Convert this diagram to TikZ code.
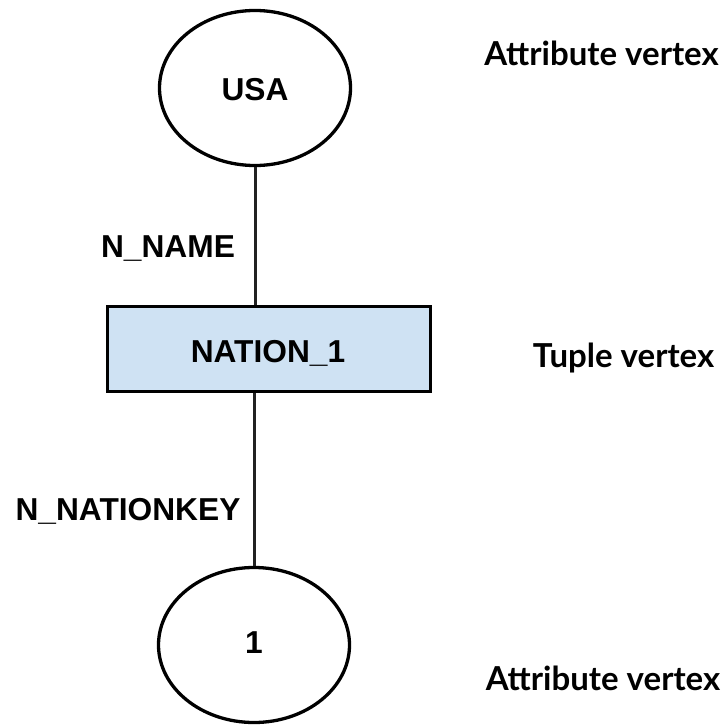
\documentclass[tikz,border=0pt]{standalone}
\usepackage{fontspec}
\setmainfont{Liberation Sans}
\newfontfamily\latofont{Lato}
\usetikzlibrary{shapes.geometric}
\definecolor{tuplefill}{HTML}{CFE2F3}
\definecolor{edgeline}{HTML}{222222}
\tikzset{
  attrvertex/.style={ellipse, draw=black, line width=3.3pt, fill=white,
    minimum width=191pt, minimum height=155pt, inner sep=0pt},
  tuplevertex/.style={rectangle, draw=black, line width=3.3pt, fill=tuplefill,
    minimum width=323pt, minimum height=85pt, inner sep=0pt},
  vtext/.style={font=\fontsize{31.7}{38}\selectfont\bfseries, anchor=base, inner sep=0pt},
  edgelabel/.style={font=\fontsize{31.7}{38}\selectfont\bfseries, anchor=base, inner sep=0pt},
  kindlabel/.style={font=\latofont\fontsize{33}{40}\selectfont\bfseries, anchor=base, inner sep=0pt},
  link/.style={draw=edgeline, line width=3pt},
}
\begin{document}
\begin{tikzpicture}[x=1pt,y=-1pt]
  \useasboundingbox (0,0) rectangle (726,725);
  % vertices
  \node[attrvertex] (usa) at (255,88) {};
  \node[tuplevertex] (nation) at (269,349) {};
  \node[attrvertex] (one) at (254,645) {};
  % connectors
  \draw[link] (usa.south) -- (usa.south |- nation.north);
  \draw[link] (one.north |- nation.south) -- (one.north);
  % vertex texts
  \node[vtext] (usatext) at (255,100) {USA};
  \node[vtext] (nationtext) at (268,362) {NATION\_1};
  \node[vtext] (onetext) at (254,653) {1};
  % edge labels
  \node[edgelabel] (nname) at (168,257) {N\_NAME};
  \node[edgelabel] (nkey) at (128,520) {N\_NATIONKEY};
  % kind labels
  \node[kindlabel] (kindtop) at (601.5,66) {Attribute vertex};
  \node[kindlabel] (kindmid) at (623.5,367) {Tuple vertex};
  \node[kindlabel] (kindbot) at (603,690) {Attribute vertex};
\end{tikzpicture}
\end{document}
